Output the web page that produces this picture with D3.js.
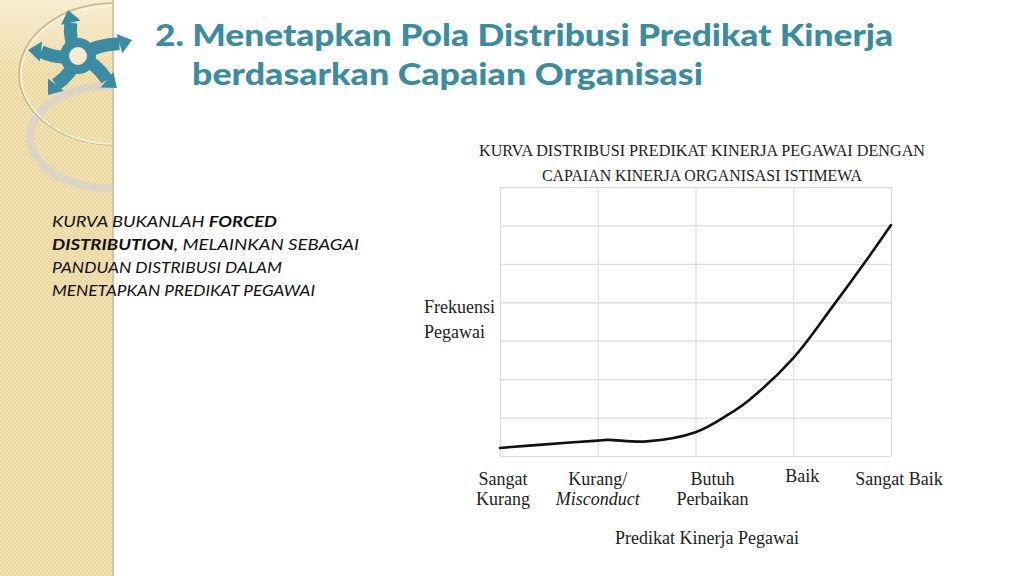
<!DOCTYPE html>
<html>
  <head>
    <script src="https://d3js.org/d3.v7.min.js"></script>
    <style>
      html, body { margin: 0; padding: 0; overflow: hidden; background: #fff; }
      svg { display: block; }
    </style>
  </head>
  <body>
    <div id="slide"></div>
    <script>
      // Chart data
      const categories = ["Sangat Kurang", "Kurang/ Misconduct", "Butuh Perbaikan", "Baik", "Sangat Baik"];
      const curveX = [0, 0.5, 1, 1.1, 1.5, 2, 2.33, 2.55, 3, 3.4, 3.75, 4];
      const curveY = [0.21, 0.31, 0.4, 0.42, 0.38, 0.62, 1.07, 1.46, 2.55, 3.88, 5.1, 6.01];
      const gridRows = [0, 1, 2, 3, 4, 5, 6, 7];

      const titleLines = ["2. Menetapkan Pola Distribusi Predikat Kinerja", "berdasarkan Capaian Organisasi"];
      const noteLines = [
        [["KURVA BUKANLAH ", false], ["FORCED", true]],
        [["DISTRIBUTION", true], [", MELAINKAN SEBAGAI", false]],
        [["PANDUAN DISTRIBUSI DALAM", false]],
        [["MENETAPKAN PREDIKAT PEGAWAI", false]]
      ];
      const chartTitle = ["KURVA DISTRIBUSI PREDIKAT KINERJA PEGAWAI DENGAN", "CAPAIAN KINERJA ORGANISASI ISTIMEWA"];

      const width = 1024, height = 576;
      const teal = "#3a8ca3";

      const svg = d3.select("#slide").append("svg")
        .attr("width", width).attr("height", height);

      // ---- left decorative panel ----
      const defs = svg.append("defs");
      const pat = defs.append("pattern").attr("id", "dots")
        .attr("width", 4).attr("height", 4).attr("patternUnits", "userSpaceOnUse");
      pat.append("rect").attr("width", 4).attr("height", 4).attr("fill", "#f3e2b2");
      pat.append("rect").attr("width", 2).attr("height", 2).attr("fill", "#ecd7a0");
      pat.append("rect").attr("x", 2).attr("y", 2).attr("width", 2).attr("height", 2).attr("fill", "#ecd7a0");
      const fade = defs.append("linearGradient").attr("id", "fade").attr("x1", 0).attr("y1", 0).attr("x2", 0).attr("y2", 1);
      fade.append("stop").attr("offset", 0).attr("stop-color", "#faf3de").attr("stop-opacity", 0.75);
      fade.append("stop").attr("offset", 1).attr("stop-color", "#faf3de").attr("stop-opacity", 0);
      defs.append("clipPath").attr("id", "panelClip")
        .append("rect").attr("width", 113).attr("height", height);

      const panel = svg.append("g").attr("clip-path", "url(#panelClip)");
      panel.append("rect").attr("width", 113).attr("height", height).attr("fill", "url(#dots)");
      panel.append("rect").attr("width", 113).attr("height", 75).attr("fill", "url(#fade)");
      // rings
      panel.append("ellipse").attr("cx", 110).attr("cy", 137).attr("rx", 80).attr("ry", 51)
        .attr("fill", "none").attr("stroke", "#dcd5c6").attr("stroke-width", 8);
      panel.append("ellipse").attr("cx", 115).attr("cy", 74).attr("rx", 96).attr("ry", 71)
        .attr("fill", "none").attr("stroke", "#c7b386").attr("stroke-width", 1.5);
      panel.append("ellipse").attr("cx", 115).attr("cy", 75).attr("rx", 94).attr("ry", 69)
        .attr("fill", "none").attr("stroke", "#fbf4e0").attr("stroke-width", 1.5);
      svg.append("rect").attr("x", 112).attr("width", 2).attr("height", height).attr("fill", "#cfc7ad");

      // logo: five arrows around a ring
      const logo = svg.append("g").attr("transform", "translate(78,56)");
      const arms = [[-10, -46], [54, -16], [-50, -6], [-30, 39], [39, 32]];
      arms.forEach(([dx, dy]) => {
        const len = Math.hypot(dx, dy), ux = dx / len, uy = dy / len;
        const bx = dx - ux * 13, by = dy - uy * 13;
        // slightly curved arm, swept like a pinwheel
        const cx = bx * 0.5 + uy * 6, cy = by * 0.5 - ux * 6;
        logo.append("path").attr("d", `M0,0 Q${cx},${cy} ${bx},${by}`)
          .attr("fill", "none").attr("stroke", teal).attr("stroke-width", 13);
        logo.append("path")
          .attr("d", `M${dx},${dy} L${bx - uy * 10},${by + ux * 10} L${bx + uy * 10},${by - ux * 10} Z`)
          .attr("fill", teal);
      });
      logo.append("circle").attr("r", 18).attr("fill", teal);
      logo.append("circle").attr("r", 9).attr("fill", "#f6ead0");

      // ---- slide title ----
      const titleWidths = [738, 511];
      titleLines.forEach((s, i) => {
        svg.append("text").attr("x", i === 0 ? 155 : 192).attr("y", 46 + i * 39)
          .attr("font-family", "Lato").attr("font-weight", 900).attr("font-size", 30)
          .attr("textLength", titleWidths[i]).attr("lengthAdjust", "spacingAndGlyphs")
          .attr("fill", teal).text(s);
      });

      // ---- side note ----
      const noteWidths = [225, 307, 230, 263];
      noteLines.forEach((parts, i) => {
        const t = svg.append("text").attr("x", 52).attr("y", 227 + i * 23)
          .attr("font-family", "Lato").attr("font-style", "italic").attr("font-size", 16).attr("fill", "#111")
          .attr("textLength", noteWidths[i]).attr("lengthAdjust", "spacingAndGlyphs");
        parts.forEach(([s, b]) => t.append("tspan").attr("font-weight", b ? 700 : 400).text(s));
      });

      // ---- chart ----
      const plot = { left: 500, right: 891, top: 187, bottom: 456 };
      const x = d3.scaleLinear().domain([0, categories.length - 1]).range([plot.left, plot.right]);
      const y = d3.scaleLinear().domain([0, 7]).range([plot.bottom, plot.top]);
      const serif = "Liberation Serif";

      chartTitle.forEach((s, i) => {
        svg.append("text").attr("x", 702).attr("y", 156 + i * 25).attr("text-anchor", "middle")
          .attr("font-family", serif).attr("font-size", 16.5).attr("fill", "#222")
          .attr("textLength", i === 0 ? 446 : 320).attr("lengthAdjust", "spacingAndGlyphs")
          .text(s);
      });

      const gridStyle = g => {
        g.select(".domain").remove();
        g.selectAll(".tick line").attr("stroke", "#dcdcdc").attr("stroke-width", 1.2);
        g.selectAll(".tick text").remove();
      };
      svg.append("g").attr("transform", `translate(0,${plot.bottom})`)
        .call(d3.axisBottom(x).tickValues(d3.range(categories.length))
          .tickSizeInner(-(plot.bottom - plot.top)).tickFormat(""))
        .call(gridStyle);
      svg.append("g").attr("transform", `translate(${plot.left},0)`)
        .call(d3.axisLeft(y).tickValues(gridRows).tickSizeInner(-(plot.right - plot.left)).tickFormat(""))
        .call(gridStyle);

      const pts = curveX.map((v, i) => [v, curveY[i]]);
      svg.append("path").datum(pts)
        .attr("fill", "none").attr("stroke", "#111").attr("stroke-width", 2.6)
        .attr("stroke-linecap", "round")
        .attr("d", d3.line().x(d => x(d[0])).y(d => y(d[1])).curve(d3.curveCatmullRom));

      // category labels
      const labelDx = [3, 0, 17, 9, 8];
      const labelDy = [0, 0, 0, -3, 0];
      categories.forEach((c, i) => {
        const lines = c === "Sangat Baik" ? [c] : c.split(" ");
        lines.forEach((ln, j) => {
          svg.append("text")
            .attr("x", x(i) + labelDx[i]).attr("y", plot.bottom + 29 + labelDy[i] + j * 20)
            .attr("text-anchor", "middle")
            .attr("font-family", serif).attr("font-size", 18).attr("fill", "#222")
            .attr("font-style", ln === "Misconduct" ? "italic" : "normal")
            .text(ln);
        });
      });

      svg.append("text").attr("x", 707).attr("y", 544).attr("text-anchor", "middle")
        .attr("font-family", serif).attr("font-size", 18).attr("fill", "#222")
        .text("Predikat Kinerja Pegawai");
      ["Frekuensi", "Pegawai"].forEach((s, i) => {
        svg.append("text").attr("x", 424).attr("y", 313 + i * 25)
          .attr("font-family", serif).attr("font-size", 18).attr("fill", "#222").text(s);
      });
    </script>
  </body>
</html>
